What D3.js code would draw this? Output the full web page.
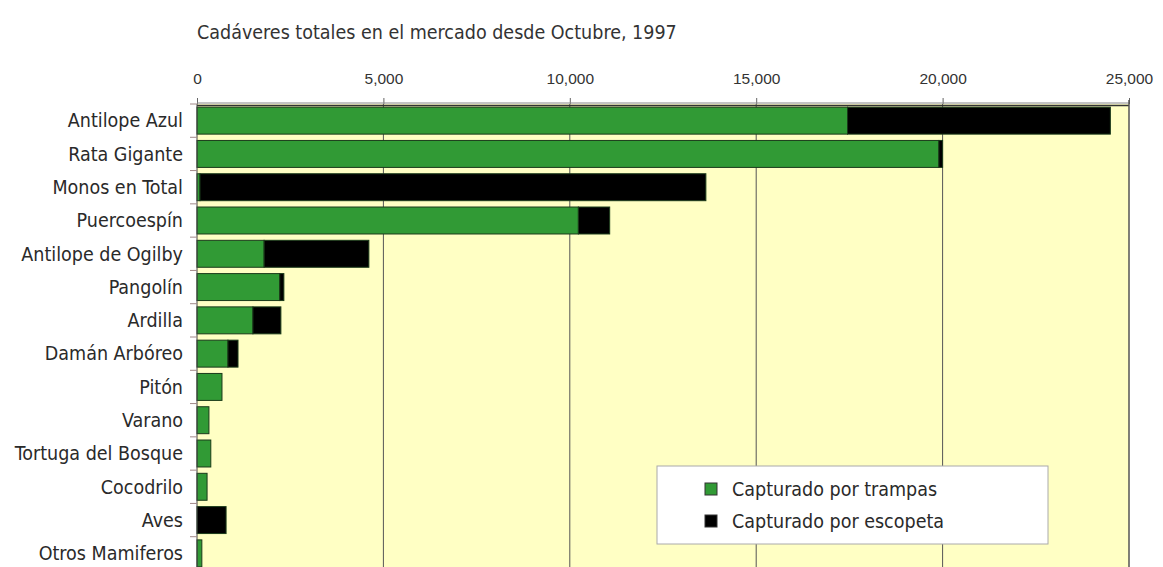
<!DOCTYPE html>
<html>
<head>
<meta charset="utf-8">
<script src="https://cdn.jsdelivr.net/npm/d3@7"></script>
<style>
  body { margin: 0; background: #fff; }
  svg { display: block; font-family: "DejaVu Sans Condensed", "DejaVu Sans", sans-serif; }
</style>
</head>
<body>
<div id="chart"></div>
<script>
// categories, top to bottom
const species = ["Antilope Azul", "Rata Gigante", "Monos en Total", "Puercoespín", "Antilope de Ogilby",
    "Pangolín", "Ardilla", "Damán Arbóreo", "Pitón", "Varano", "Tortuga del Bosque", "Cocodrilo",
    "Aves", "Otros Mamiferos"];
// carcasses caught with traps / with shotguns
const trapped = [17450, 19900, 80, 10230, 1800, 2220, 1500, 830, 670, 320, 370, 270, 0, 130];
const shot = [7050, 100, 13570, 840, 2810, 110, 750, 270, 0, 0, 0, 0, 780, 0];
const xTicks = [0, 5000, 10000, 15000, 20000, 25000];
const seriesNames = ["Capturado por trampas", "Capturado por escopeta"];
const colors = ["#319a35", "#000000"];

const W = 1163, H = 567;
const margin = { top: 104, left: 197 };
const plotW = 932, plotH = 466;
const labelSize = "19.5px";

const svg = d3.select("#chart").append("svg")
    .attr("width", W)
    .attr("height", H);

const x = d3.scaleLinear().domain([0, 25000]).range([margin.left, margin.left + plotW]);
const y = d3.scaleBand().domain(species).range([margin.top, margin.top + plotH]).paddingInner(0.19).paddingOuter(0.095);
const yb = d3.scaleBand().domain(species).range([margin.top, margin.top + plotH]);

// plot background
svg.append("rect")
    .attr("x", margin.left).attr("y", margin.top)
    .attr("width", plotW).attr("height", plotH)
    .attr("fill", "#ffffc4");

// vertical gridlines
svg.append("g").selectAll("line")
    .data(xTicks.slice(1, -1))
    .enter().append("line")
    .attr("x1", d => x(d)).attr("x2", d => x(d))
    .attr("y1", margin.top).attr("y2", margin.top + plotH)
    .attr("stroke", "#555").attr("stroke-width", 1);

// top axis
const xAxis = svg.append("g")
    .attr("transform", `translate(0,${margin.top})`)
    .call(d3.axisTop(x).tickValues(xTicks).tickFormat(d3.format(",")).tickSize(6).tickPadding(14));
xAxis.select(".domain").remove();
xAxis.selectAll(".tick line").attr("stroke", "#666");
xAxis.selectAll(".tick text")
    .attr("fill", "#333")
    .style("font-size", "15.5px");

// stacked bars
const rows = species.map((s, i) => ({ name: s, trapped: trapped[i], shot: shot[i] }));
const stack = d3.stack().keys(["trapped", "shot"])(rows);

svg.append("g").selectAll("g")
    .data(stack)
    .enter().append("g")
    .attr("fill", (d, i) => colors[i])
    .selectAll("rect")
    .data(d => d.filter(p => p[1] > p[0]))
    .enter().append("rect")
    .attr("x", d => x(d[0]))
    .attr("y", d => y(d.data.name))
    .attr("width", d => x(d[1]) - x(d[0]))
    .attr("height", y.bandwidth())
    .attr("stroke", "#1a3a1a")
    .attr("stroke-width", 1);

// plot frame: double line on top, dark right/left edge
svg.append("line")
    .attr("x1", margin.left).attr("x2", margin.left + plotW)
    .attr("y1", margin.top - 1).attr("y2", margin.top - 1)
    .attr("stroke", "#888").attr("stroke-width", 1);
svg.append("line")
    .attr("x1", margin.left).attr("x2", margin.left + plotW)
    .attr("y1", margin.top + 1.5).attr("y2", margin.top + 1.5)
    .attr("stroke", "#333").attr("stroke-width", 1.5);
svg.append("line")
    .attr("x1", margin.left + plotW).attr("x2", margin.left + plotW)
    .attr("y1", margin.top - 4).attr("y2", margin.top + plotH)
    .attr("stroke", "#555").attr("stroke-width", 1.5);
svg.append("line")
    .attr("x1", margin.left).attr("x2", margin.left)
    .attr("y1", margin.top).attr("y2", margin.top + plotH)
    .attr("stroke", "#444").attr("stroke-width", 1);

// left axis: labels and small ticks at band edges
const yAxis = svg.append("g")
    .attr("transform", `translate(${margin.left},0)`);
yAxis.selectAll("line")
    .data(species)
    .enter().append("line")
    .attr("x1", -7).attr("x2", 0)
    .attr("y1", d => yb(d)).attr("y2", d => yb(d))
    .attr("stroke", "#a08888");
yAxis.selectAll("text")
    .data(species)
    .enter().append("text")
    .attr("x", -14)
    .attr("y", d => yb(d) + yb.bandwidth() / 2)
    .attr("dy", "0.35em")
    .attr("text-anchor", "end")
    .attr("fill", "#2a2a2a")
    .style("font-size", labelSize)
    .text(d => d);

// title
svg.append("text")
    .attr("x", margin.left)
    .attr("y", 39)
    .attr("fill", "#333")
    .style("font-size", labelSize)
    .text("Cadáveres totales en el mercado desde Octubre, 1997");

// legend
const legend = svg.append("g").attr("transform", "translate(657,466)");
legend.append("rect")
    .attr("width", 391).attr("height", 78)
    .attr("fill", "#fff").attr("stroke", "#aaa");
const item = legend.selectAll(".item")
    .data(seriesNames)
    .enter().append("g")
    .attr("class", "item")
    .attr("transform", (d, i) => `translate(48,${23 + i * 32})`);
item.append("rect")
    .attr("y", -6).attr("width", 12).attr("height", 12)
    .attr("fill", (d, i) => colors[i])
    .attr("stroke", "#333");
item.append("text")
    .attr("x", 27).attr("dy", "0.35em")
    .attr("fill", "#2a2a2a")
    .style("font-size", labelSize)
    .text(d => d);
</script>
</body>
</html>
